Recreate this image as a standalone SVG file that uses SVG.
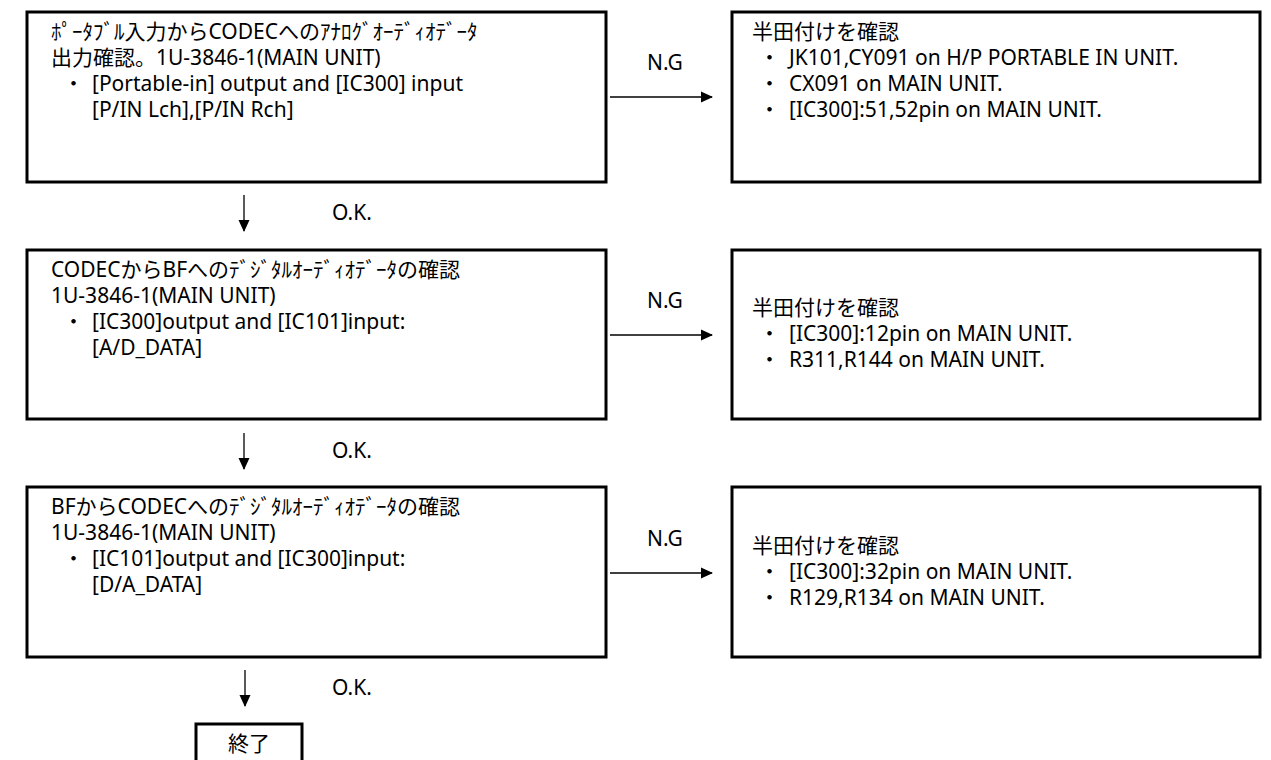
<svg xmlns="http://www.w3.org/2000/svg" width="1271" height="760" viewBox="0 0 1271 760">
<defs>
<style>
.box{fill:#fff;stroke:#000;stroke-width:3}
.t{font-family:"Noto Sans","Noto Sans CJK JP",sans-serif;font-size:21px;fill:#000}
.c{text-anchor:middle}
.ln{stroke:#000;stroke-width:1.3;fill:none}
</style>
<marker id="ah" markerWidth="12" markerHeight="12" viewBox="0 0 12 12" refX="11" refY="6" orient="auto" markerUnits="userSpaceOnUse">
<path d="M0,0.5 L12,6 L0,11.5 Z" fill="#000"/>
</marker>
</defs>
<rect width="1271" height="760" fill="#fff"/>
<g id="step1">
<rect class="box" x="27" y="12" width="579" height="170"/>
<text class="t" x="51" y="39">ﾎﾟｰﾀﾌﾞﾙ入力からCODECへのｱﾅﾛｸﾞｵｰﾃﾞｨｵﾃﾞｰﾀ</text>
<text class="t" x="51" y="65">出力確認。1U-3846-1(MAIN UNIT)</text>
<text class="t" y="91"><tspan x="63">・</tspan><tspan x="92">[Portable-in] output and [IC300] input</tspan></text>
<text class="t" x="92" y="117">[P/IN Lch],[P/IN Rch]</text>
</g>
<g id="check1">
<rect class="box" x="732" y="12" width="528" height="170"/>
<text class="t" x="752" y="39">半田付けを確認</text>
<text class="t" y="65"><tspan x="759">・</tspan><tspan x="789">JK101,CY091 on H/P PORTABLE IN UNIT.</tspan></text>
<text class="t" y="91"><tspan x="759">・</tspan><tspan x="789">CX091 on MAIN UNIT.</tspan></text>
<text class="t" y="117"><tspan x="759">・</tspan><tspan x="789">[IC300]:51,52pin on MAIN UNIT.</tspan></text>
</g>
<g id="step2">
<rect class="box" x="27" y="250" width="579" height="169"/>
<text class="t" x="51" y="277">CODECからBFへのﾃﾞｼﾞﾀﾙｵｰﾃﾞｨｵﾃﾞｰﾀの確認</text>
<text class="t" x="51" y="303">1U-3846-1(MAIN UNIT)</text>
<text class="t" y="329"><tspan x="63">・</tspan><tspan x="92">[IC300]output and [IC101]input:</tspan></text>
<text class="t" x="92" y="355">[A/D_DATA]</text>
</g>
<g id="check2">
<rect class="box" x="732" y="250" width="528" height="169"/>
<text class="t" x="752" y="315">半田付けを確認</text>
<text class="t" y="341"><tspan x="759">・</tspan><tspan x="789">[IC300]:12pin on MAIN UNIT.</tspan></text>
<text class="t" y="367"><tspan x="759">・</tspan><tspan x="789">R311,R144 on MAIN UNIT.</tspan></text>
</g>
<g id="step3">
<rect class="box" x="27" y="487" width="579" height="170"/>
<text class="t" x="51" y="514">BFからCODECへのﾃﾞｼﾞﾀﾙｵｰﾃﾞｨｵﾃﾞｰﾀの確認</text>
<text class="t" x="51" y="540">1U-3846-1(MAIN UNIT)</text>
<text class="t" y="566"><tspan x="63">・</tspan><tspan x="92">[IC101]output and [IC300]input:</tspan></text>
<text class="t" x="92" y="592">[D/A_DATA]</text>
</g>
<g id="check3">
<rect class="box" x="732" y="487" width="528" height="170"/>
<text class="t" x="752" y="553">半田付けを確認</text>
<text class="t" y="579"><tspan x="759">・</tspan><tspan x="789">[IC300]:32pin on MAIN UNIT.</tspan></text>
<text class="t" y="605"><tspan x="759">・</tspan><tspan x="789">R129,R134 on MAIN UNIT.</tspan></text>
</g>
<g id="end">
<rect class="box" x="196" y="724" width="106" height="45"/>
<text class="t c" x="249" y="751">終了</text>
</g>
<g id="connectors">
<line class="ln" x1="610" y1="97" x2="712" y2="97" marker-end="url(#ah)"/>
<line class="ln" x1="610" y1="335" x2="712" y2="335" marker-end="url(#ah)"/>
<line class="ln" x1="610" y1="573" x2="712" y2="573" marker-end="url(#ah)"/>
<line class="ln" x1="244" y1="195" x2="244" y2="231" marker-end="url(#ah)"/>
<line class="ln" x1="244" y1="433" x2="244" y2="469" marker-end="url(#ah)"/>
<line class="ln" x1="245" y1="670" x2="245" y2="706" marker-end="url(#ah)"/>
<text class="t c" x="665" y="70">N.G</text>
<text class="t c" x="665" y="308">N.G</text>
<text class="t c" x="665" y="546">N.G</text>
<text class="t" x="332" y="220">O.K.</text>
<text class="t" x="332" y="458">O.K.</text>
<text class="t" x="332" y="695">O.K.</text>
</g>
</svg>
